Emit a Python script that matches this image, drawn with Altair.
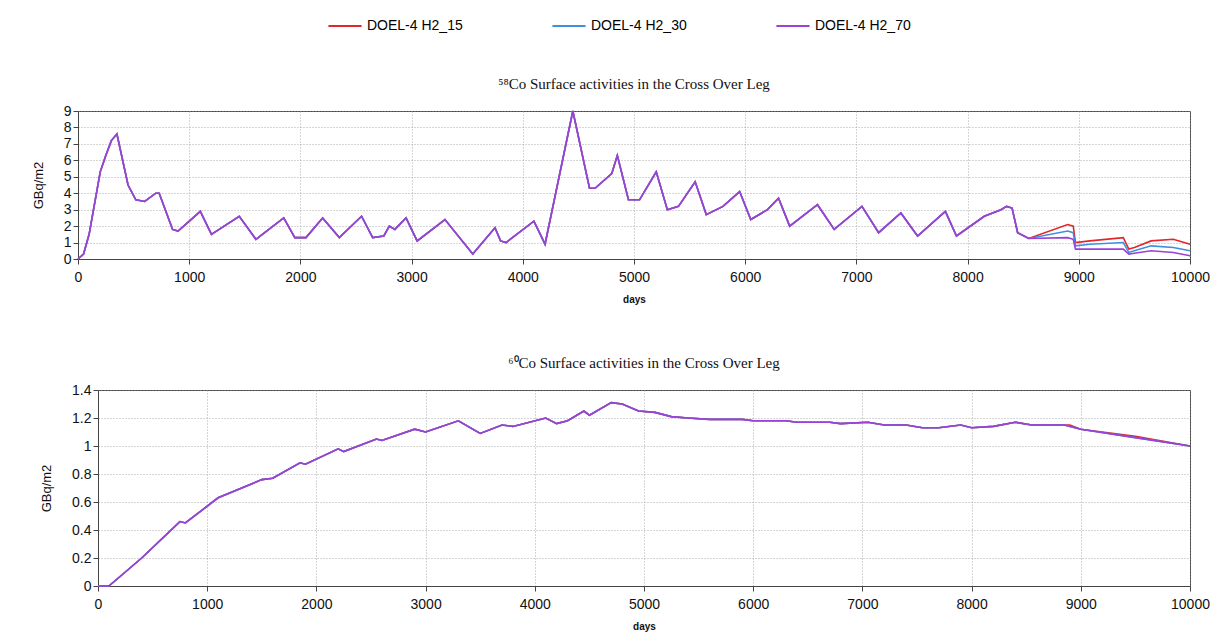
import altair as alt
import pandas as pd

series = ["DOEL-4 H2_15", "DOEL-4 H2_30", "DOEL-4 H2_70"]
colors = ["#e3262b", "#3f8fe0", "#9b40d8"]

# 58Co: shared history, then the three cases diverge
co58_days = [0, 50, 100, 200, 250, 300, 350, 450, 520, 600, 700, 730, 850, 900, 1100, 1200,
             1450, 1600, 1850, 1950, 2050, 2200, 2350, 2550, 2650, 2750, 2800, 2850, 2950,
             3050, 3300, 3550, 3750, 3800, 3850, 4100, 4200, 4450, 4600, 4650, 4800, 4850,
             4950, 5050, 5200, 5300, 5400, 5550, 5650, 5800, 5950, 6050, 6200, 6300, 6400,
             6650, 6800, 7050, 7200, 7400, 7550, 7800, 7900, 8150, 8300, 8350, 8400, 8450, 8550]
co58_vals = [0, 0.3, 1.5, 5.3, 6.3, 7.2, 7.6, 4.5, 3.6, 3.5, 4.0, 4.0, 1.8, 1.7, 2.9, 1.5,
             2.6, 1.2, 2.5, 1.3, 1.3, 2.5, 1.3, 2.6, 1.3, 1.4, 2.0, 1.8, 2.5,
             1.1, 2.4, 0.3, 1.9, 1.1, 1.0, 2.3, 0.9, 9.0, 4.3, 4.3, 5.2, 6.3,
             3.6, 3.6, 5.3, 3.0, 3.2, 4.7, 2.7, 3.2, 4.1, 2.4, 3.0, 3.7, 2.0,
             3.3, 1.8, 3.2, 1.6, 2.8, 1.4, 2.9, 1.4, 2.6, 3.0, 3.2, 3.1, 1.6, 1.25]
co58_tail_days = [8900, 8950, 8970, 9100, 9400, 9450, 9500, 9650, 9850, 10000]
co58_tails = [
    [2.1, 2.0, 1.0, 1.1, 1.3, 0.6, 0.7, 1.1, 1.2, 0.9],
    [1.7, 1.6, 0.8, 0.9, 1.0, 0.4, 0.5, 0.8, 0.7, 0.5],
    [1.3, 1.2, 0.6, 0.6, 0.6, 0.3, 0.35, 0.5, 0.4, 0.2],
]
co58_ticks = [0, 1, 2, 3, 4, 5, 6, 7, 8, 9]

co60_days = [0, 100, 400, 750, 800, 1100, 1500, 1600, 1850, 1900, 2200, 2250, 2550, 2600,
             2900, 3000, 3300, 3500, 3700, 3800, 4100, 4200, 4300, 4450, 4500, 4700, 4800,
             4950, 5100, 5250, 5400, 5600, 5900, 6000, 6300, 6400, 6700, 6800, 7050, 7200,
             7400, 7550, 7700, 7900, 8000, 8200, 8400, 8550, 8850]
co60_vals = [0, 0, 0.2, 0.46, 0.45, 0.63, 0.76, 0.77, 0.88, 0.87, 0.98, 0.96, 1.05, 1.04,
             1.12, 1.10, 1.18, 1.09, 1.15, 1.14, 1.20, 1.16, 1.18, 1.25, 1.22, 1.31, 1.30,
             1.25, 1.24, 1.21, 1.20, 1.19, 1.19, 1.18, 1.18, 1.17, 1.17, 1.16, 1.17, 1.15,
             1.15, 1.13, 1.13, 1.15, 1.13, 1.14, 1.17, 1.15, 1.15]
co60_tail_days = [8900, 9000, 9500, 10000]
co60_tails = [
    [1.15, 1.12, 1.07, 1.0],
    [1.14, 1.12, 1.06, 1.0],
    [1.14, 1.12, 1.06, 1.0],
]
co60_ticks = [0, 0.2, 0.4, 0.6, 0.8, 1, 1.2, 1.4]

day_ticks = [0, 1000, 2000, 3000, 4000, 5000, 6000, 7000, 8000, 9000, 10000]


def build(days, vals, tail_days, tails):
    rows = []
    for k, name in enumerate(series):
        for d, v in zip(days + tail_days, vals + tails[k]):
            rows.append({"days": d, "value": v, "series": name, "order": k})
    return pd.DataFrame(rows)


df58 = build(co58_days, co58_vals, co58_tail_days, co58_tails)
df60 = build(co60_days, co60_vals, co60_tail_days, co60_tails)

grid = dict(grid=True, gridColor="#999999", gridDash=[1, 2], gridOpacity=0.8)
font = "Liberation Sans"
frame = alt.ViewConfig(stroke="#444444")
color = alt.Color("series:N", scale=alt.Scale(domain=series, range=colors),
                  legend=alt.Legend(title=None, orient="none", legendX=300, legendY=-103,
                                    direction="horizontal", symbolType="stroke",
                                    symbolStrokeWidth=2, symbolSize=1100, labelFontSize=14,
                                    labelFont=font, columnPadding=85))


def panel(df, title, ymax, ticks, w, h):
    return (
        alt.Chart(df)
        .mark_line(strokeWidth=1.6)
        .encode(
            x=alt.X("days:Q", scale=alt.Scale(domain=[0, 10000], nice=False),
                    axis=alt.Axis(title="days", values=day_ticks, format="d",
                                  titleFontSize=10, titleFont=font, titlePadding=10,
                                  labelFontSize=14, labelFont=font, labelPadding=6,
                                  labelFlush=False, **grid)),
            y=alt.Y("value:Q", scale=alt.Scale(domain=[0, ymax], nice=False),
                    axis=alt.Axis(title="GBq/m2", values=ticks, format="~g",
                                  titleFontSize=13, titleFont=font, titlePadding=18,
                                  titleFontWeight="normal", labelFontSize=14,
                                  labelFont=font, **grid)),
            color=color,
            detail="series:N",
            order="order:Q",
        )
        .properties(width=w, height=h, view=frame,
                    title=alt.TitleParams(title, font="Liberation Serif", fontSize=15,
                                          fontWeight="normal", anchor="middle", offset=12))
    )


def spacer(w, h):
    # invisible block that shifts a panel to the right
    return (
        alt.Chart(pd.DataFrame({"a": [0]}))
        .mark_point(opacity=0)
        .encode(x=alt.X("a:Q", axis=None), y=alt.Y("a:Q", axis=None))
        .properties(width=w, height=h, view=alt.ViewConfig(strokeOpacity=0))
    )


top = panel(df58, "⁵⁸Co Surface activities in the Cross Over Leg", 9, co58_ticks, 1112, 148)
bottom = panel(df60, "⁶⁰Co Surface activities in the Cross Over Leg", 1.4, co60_ticks, 1092, 196)

chart = (
    alt.vconcat(
        alt.hconcat(spacer(1, 148), top, spacing=0),
        alt.hconcat(spacer(13, 196), bottom, spacing=0),
        spacing=50,
    )
    .properties(padding={"left": 16, "top": 0, "right": 5, "bottom": 0})
    .configure_axis(domainColor="#444444", tickColor="#444444", labelColor="#111111",
                    titleColor="#111111")
    .configure_axisX(titleFontWeight="bold")
    .configure_title(color="#111111")
)
chart.save("out.html", embed_options={"renderer": "svg", "actions": False})
